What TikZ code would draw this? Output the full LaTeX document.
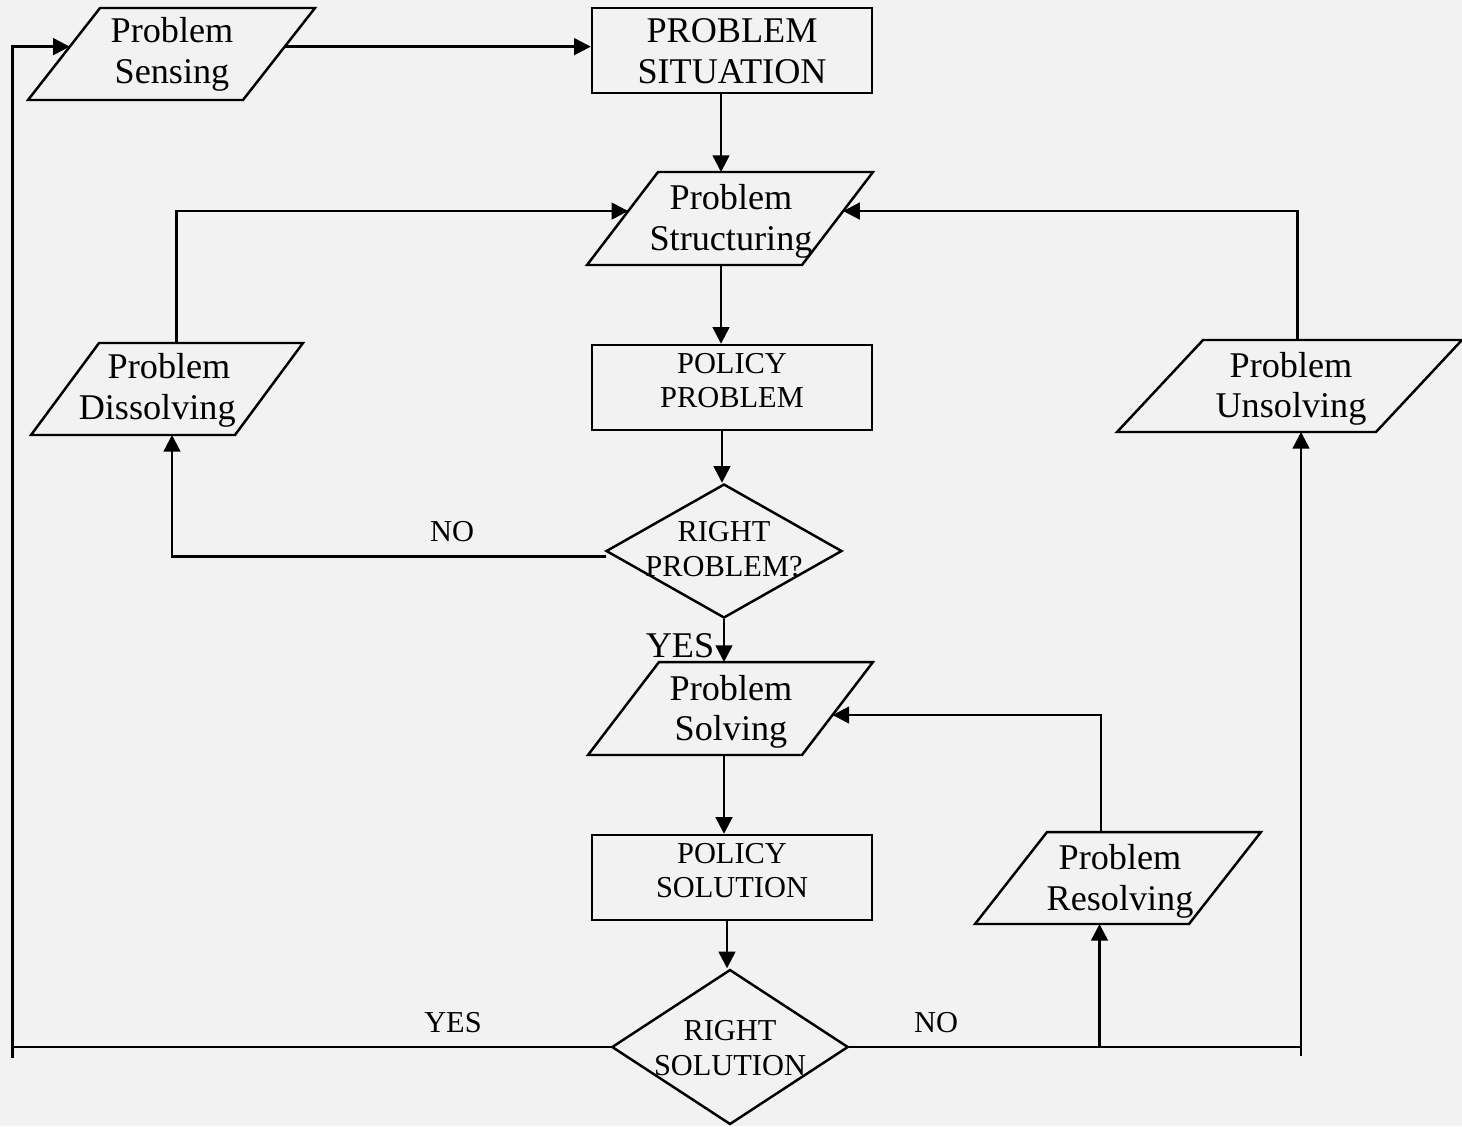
\documentclass[tikz,border=0pt]{standalone}
\usepackage{fontspec}
\setmainfont{Liberation Serif}
\usetikzlibrary{shapes.geometric,arrows.meta,calc}
\definecolor{bgc}{HTML}{F2F2F2}
\newcommand\bigf{\fontsize{20.6}{23.2}\selectfont}
\newcommand\smallf{\fontsize{17.3}{19.8}\selectfont}
\tikzset{
  box/.style={draw, line width=1.4pt, rectangle, minimum width=5.6cm, minimum height=1.7cm, inner sep=0pt},
  parabox/.style={rectangle, inner sep=0pt, outer sep=0pt},
  shapeline/.style={line width=1.4pt, line join=miter},
  dec/.style={draw, line width=1.4pt, diamond, inner sep=0pt},
  bigtxt/.style={font=\bigf, align=center, inner sep=0pt},
  smalltxt/.style={font=\smallf, align=center, inner sep=0pt},
  conn/.style={line width=1.4pt},
  arr/.style={conn, -{Triangle[length=9.5pt,width=9.5pt]}},
}
% #1 node name, #2 horizontal slant offset (px)
\newcommand\drawpara[2]{%
  \coordinate (#1-tl) at ($(#1.north west)+(#2,0)$);
  \coordinate (#1-tr) at (#1.north east);
  \coordinate (#1-br) at ($(#1.south east)-(#2,0)$);
  \coordinate (#1-bl) at (#1.south west);
  \draw[shapeline] (#1-tl) -- (#1-tr) -- (#1-br) -- (#1-bl) -- cycle;
}
\begin{document}
\begin{tikzpicture}[x=0.02cm,y=-0.02cm]
\fill[bgc] (0,0) rectangle (1462,1126);
\useasboundingbox (0,0) rectangle (1462,1126);

% shapes
\node[parabox, minimum width=5.74cm, minimum height=1.84cm] (sens) at (171.5,54) {};
\drawpara{sens}{72}
\node[box, minimum height=1.69cm] (sit) at (732,50.5) {};
\node[parabox, minimum width=5.72cm, minimum height=1.86cm] (struct) at (730,218.5) {};
\drawpara{struct}{71}
\node[box] (pprob) at (732,387.5) {};
\node[dec, minimum width=4.72cm, minimum height=2.68cm] (d1) at (724,551) {};
\node[parabox, minimum width=5.44cm, minimum height=1.84cm] (diss) at (167,389) {};
\drawpara{diss}{68}
\node[parabox, minimum width=5.70cm, minimum height=1.86cm] (solv) at (730.5,708.5) {};
\drawpara{solv}{71}
\node[box] (psol) at (732,877.5) {};
\node[dec, minimum width=4.73cm, minimum height=3.1cm] (d2) at (730,1047) {};
\node[parabox, minimum width=5.72cm, minimum height=1.84cm] (resol) at (1118,878) {};
\drawpara{resol}{72}
\node[parabox, minimum width=6.90cm, minimum height=1.84cm] (unsol) at (1289.5,386) {};
\drawpara{unsol}{86}

% texts
\node[bigtxt] (sensT) at (172,54.6) {\strut Problem\\Sensing\strut};
\node[bigtxt] (sitT) at (732,54.6) {\strut PROBLEM\\SITUATION\strut};
\node[bigtxt] (structT) at (731,221.8) {\strut Problem\\Structuring\strut};
\node[smalltxt] (pprobT) at (732,383.5) {\strut POLICY\\PROBLEM\strut};
\node[smalltxt] (d1T) at (724,552.2) {\strut RIGHT\\PROBLEM?\strut};
\node[bigtxt, align=right, anchor=east] (dissT) at (236,391) {\strut Problem\hspace*{3pt}\\Dissolving\strut};
\node[bigtxt] (solvT) at (731,712.3) {\strut Problem\\Solving\strut};
\node[smalltxt] (psolT) at (732,873.5) {\strut POLICY\\SOLUTION\strut};
\node[smalltxt] (d2T) at (730,1050.8) {\strut RIGHT\\SOLUTION\strut};
\node[bigtxt] (resolT) at (1120,881.5) {\strut Problem\\Resolving\strut};
\node[bigtxt] (unsolT) at (1291,389.3) {\strut Problem\\Unsolving\strut};

\node[smalltxt, anchor=base] (noA) at (452,541.5) {NO};
\node[bigtxt, anchor=base] (yesA) at (680,657) {YES};
\node[smalltxt, anchor=base] (yesB) at (453,1032) {YES};
\node[smalltxt, anchor=base] (noB) at (936,1032) {NO};

% helper coordinates
\coordinate (X1) at (721,0);
\coordinate (X2) at (722,0);
\coordinate (X3) at (724,0);
\coordinate (X4) at (727,0);
\coordinate (L0) at (12.5,1058);
\coordinate (R0) at (1301,1056);
\coordinate (B0) at (1099.5,0);
\coordinate (C0) at (1101,0);
\coordinate (U0) at (1297.5,0);
\coordinate (D0) at (176.5,0);
\coordinate (E0) at (172,0);
\coordinate (sensL) at ($(sens-tl)!0.42!(sens-bl)$);
\coordinate (sensR) at ($(sens-tr)!0.42!(sens-br)$);
\coordinate (structL) at ($(struct-tl)!0.42!(struct-bl)$);
\coordinate (structR) at ($(struct-tr)!0.42!(struct-br)$);
\coordinate (solvR) at ($(solv-tr)!0.57!(solv-br)$);

% connectors
\draw[arr] (sensR) -- (sensR -| sit.west);
\draw[arr] (sit.south -| X1) -- (struct.north -| X1);
\draw[arr] (struct.south -| X1) -- (pprob.north -| X1);
\draw[arr] (pprob.south -| X2) -- (d1.north -| X2);
\draw[arr] (d1.south -| X3) -- (solv.north -| X3);
\draw[arr] (solv.south -| X3) -- (psol.north -| X3);
\draw[arr] (psol.south -| X4) -- (d2.north -| X4);
\draw[arr] ($(d1.west)+(1,5.5)$) -| (diss.south -| E0);
\draw[arr] (diss.north -| D0) |- (structL);
\draw[arr] (unsol.north -| U0) |- (structR);
\draw[conn] (d2.west) -- (d2.west -| L0);
\draw[arr] (L0) |- (sensL);
\draw[conn] (d2.east) -- (d2.east -| R0);
\draw[arr] (R0) -- (R0 |- unsol.south);
\draw[arr] (d2.east -| B0) -- (B0 |- resol.south);
\draw[arr] (resol.north -| C0) |- (solvR);
\end{tikzpicture}
\end{document}
